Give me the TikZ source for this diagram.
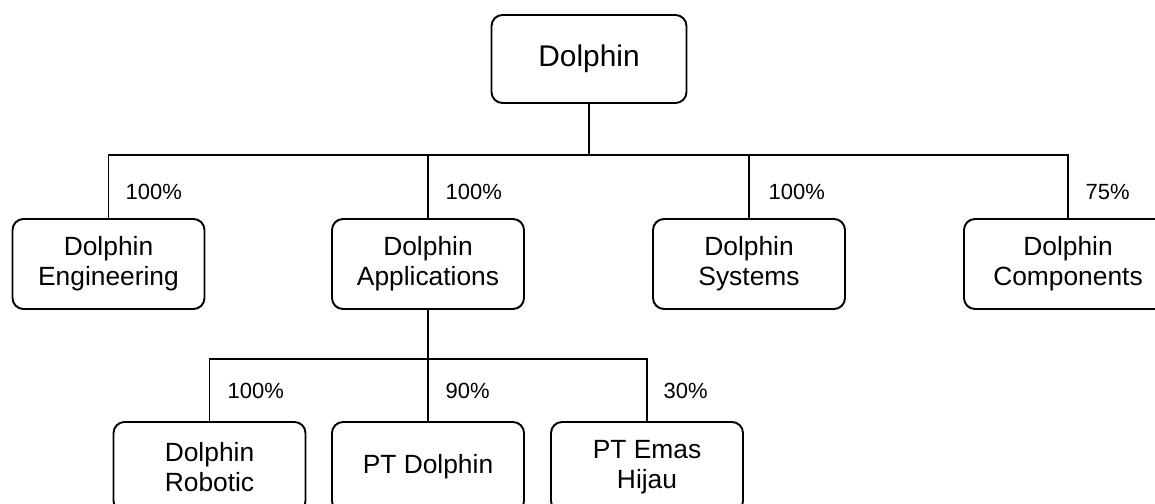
\documentclass[tikz,border=0pt]{standalone}
\usepackage{fontspec}
\setmainfont{Liberation Sans}
\usepackage{tikz}

\begin{document}
\begin{tikzpicture}[thick]
      \tikzstyle{every node} = [inner sep = 2pt];
      \tikzstyle{unit} = [draw, rounded corners=0.22cm, line width=1.1pt,
        minimum width=3.84cm, minimum height=1.8cm, align=center,
        font=\fontsize{15}{17}\selectfont];
      \tikzstyle{pct} = [anchor=west, font=\fontsize{12.5}{14}\selectfont];
      \tikzstyle{conn} = [line width=0.8pt];
      \clip (0,0) rectangle (23.1,-10.08);
      \begin{scope}
        % holding company
        \node(root) [unit, minimum width=3.9cm, minimum height=1.76cm,
          font=\fontsize{17}{19}\selectfont] at (11.78,-1.18) {Dolphin};
        % first level
        \node(eng) [unit] at (2.17,-5.28) {Dolphin\\Engineering};
        \node(app) [unit] at (8.56,-5.28) {Dolphin\\Applications};
        \node(sys) [unit] at (14.98,-5.28) {Dolphin\\Systems};
        \node(comp) [unit, minimum width=4.16cm] at (21.36,-5.28) {Dolphin\\Components};
        % second level
        \node(rob) [unit] at (4.19,-9.34) {Dolphin\\Robotic};
        \node(ptd) [unit] at (8.56,-9.34) {PT Dolphin};
        \node(emas) [unit] at (12.94,-9.34) {PT Emas\\Hijau};

        \coordinate (bus1) at (0,-3.1);
        \coordinate (bus2) at (0,-7.18);
        \foreach \n in {eng,app,sys,comp}{
          \draw[conn] (root.south) |- (bus1 -| \n.north) -- (\n.north);
        }
        \foreach \n in {rob,ptd,emas}{
          \draw[conn] (app.south) |- (bus2 -| \n.north) -- (\n.north);
        }

        % shares
        \foreach \n/\x/\t in {peng/2.43/100, papp/8.83/100, psys/15.29/100, pcomp/21.63/75}{
          \node(\n) [pct] at (\x,-3.84) {\t\%};
        }
        \foreach \n/\x/\t in {prob/4.47/100, pptd/8.83/90, pemas/13.19/30}{
          \node(\n) [pct] at (\x,-7.82) {\t\%};
        }
      \end{scope}
\end{tikzpicture}
\end{document}
